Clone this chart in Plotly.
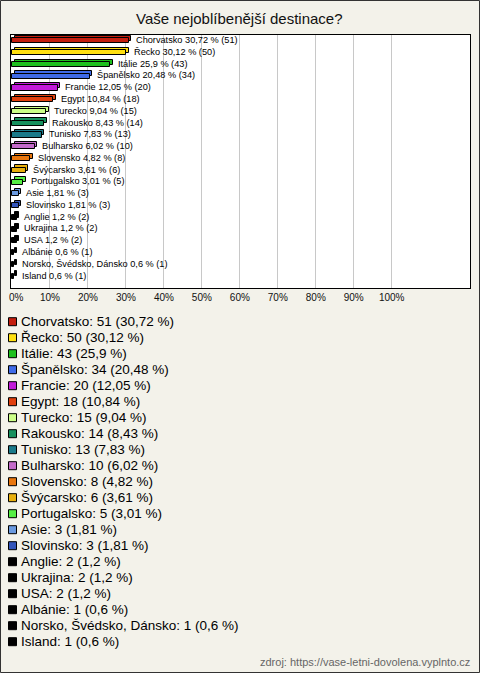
import plotly.graph_objects as go

categories = ["Chorvatsko", "Řecko", "Itálie", "Španělsko", "Francie", "Egypt", "Turecko",
              "Rakousko", "Tunisko", "Bulharsko", "Slovensko", "Švýcarsko", "Portugalsko",
              "Asie", "Slovinsko", "Anglie", "Ukrajina", "USA", "Albánie",
              "Norsko, Švédsko, Dánsko", "Island"]
counts = [51, 50, 43, 34, 20, 18, 15, 14, 13, 10, 8, 6, 5, 3, 3, 2, 2, 2, 1, 1, 1]
percents = [30.72, 30.12, 25.9, 20.48, 12.05, 10.84, 9.04, 8.43, 7.83, 6.02, 4.82, 3.61,
            3.01, 1.81, 1.81, 1.2, 1.2, 1.2, 0.6, 0.6, 0.6]
colors = ["#C41E0E", "#FFE010", "#1EC01E", "#3F6BE8", "#C21BD9", "#E0400E", "#CCFF88",
          "#17905E", "#1A7A8A", "#C36BC9", "#E8760E", "#E8B00E", "#55EE44",
          "#6A9AE0", "#3355BB", "#000000", "#000000", "#000000", "#000000", "#000000", "#000000"]
tick_values = [0, 10, 20, 30, 40, 50, 60, 70, 80, 90, 100]
tick_labels = [f"{v}%" for v in tick_values]
title = "Vaše nejoblíbenější destinace?"
source = "zdroj: https://vase-letni-dovolena.vyplnto.cz"

def cz(p):
    return str(p).replace(".", ",")

bar_labels = [f"{c} {cz(p)} % ({n})" for c, p, n in zip(categories, percents, counts)]
legend_labels = [f"{c}: {n} ({cz(p)} %)" for c, p, n in zip(categories, percents, counts)]
# first tick label sits just inside the plot edge
tick_text = ["\u00a0" * 3 + tick_labels[0]] + tick_labels[1:]

W, H = 480, 673
ml, mr, mt, mb = 11, 10, 35, 385
pw, ph = W - ml - mr, H - mt - mb
px_per_pct = 3.797
x_lo = -1.0 / px_per_pct
x_hi = x_lo + pw / px_per_pct

n = len(categories)
row_px = ph / 22.0
bw = 5.0 / row_px
dy = 2.3 / row_px
dx = 2.5 / px_per_pct
gap = 5.0 / px_per_pct

fig = go.Figure()
# back (3D depth) bars
fig.add_trace(go.Bar(
    y=categories, x=percents, base=[dx] * n, orientation="h",
    width=bw, offset=-bw / 2 - dy,
    marker=dict(color=colors, line=dict(color="#000000", width=1)),
    showlegend=False, hoverinfo="skip"))
# front bars
fig.add_trace(go.Bar(
    y=categories, x=percents, orientation="h",
    width=bw, offset=-bw / 2,
    marker=dict(color=colors, line=dict(color="#000000", width=1)),
    showlegend=False))
# transparent carrier for the value labels
fig.add_trace(go.Bar(
    y=categories, x=percents, base=[dx + gap] * n, orientation="h",
    width=bw, offset=-bw / 2 - dy / 2,
    marker=dict(color="rgba(0,0,0,0)", line=dict(width=0)),
    text=bar_labels, textposition="outside", cliponaxis=False, constraintext="none",
    textangle=0,
    textfont=dict(family="Liberation Sans, Arial", size=9.2, color="#000000"),
    showlegend=False, hoverinfo="skip"))

shapes = [dict(type="rect", xref="paper", yref="paper",
               x0=-(ml - 0.5) / pw, x1=1 + (mr - 0.5) / pw,
               y0=-(mb - 0.5) / ph, y1=1 + (mt - 0.5) / ph,
               line=dict(color="#333333", width=1), fillcolor="rgba(0,0,0,0)", layer="below")]
annotations = [dict(text=title, xref="paper", yref="paper",
                    x=(239 - ml) / pw, y=1 + (mt - 19) / ph, xanchor="center", yanchor="middle",
                    showarrow=False, font=dict(family="Liberation Sans, Arial", size=15, color="#111111")),
               dict(text=source, xref="paper", yref="paper",
                    x=(472 - ml) / pw, y=-(662 - mt - ph) / ph, xanchor="right", yanchor="middle",
                    showarrow=False, font=dict(family="Liberation Sans, Arial", size=11, color="#666666"))]

# manual legend
leg_y0, leg_dy = 321.7, 16.0
for i, (lab, col) in enumerate(zip(legend_labels, colors)):
    yc = leg_y0 + i * leg_dy
    ypaper = 1 - (yc - mt) / ph
    shapes.append(dict(type="rect", xref="paper", yref="paper",
                       x0=(8.5 - ml) / pw, x1=(16.5 - ml) / pw,
                       y0=1 - (yc + 4 - mt) / ph, y1=1 - (yc - 4 - mt) / ph,
                       fillcolor=col, line=dict(color="#000000", width=1)))
    annotations.append(dict(text=lab, xref="paper", yref="paper",
                            x=(18.5 - ml) / pw, y=ypaper, xanchor="left", yanchor="middle",
                            showarrow=False,
                            font=dict(family="Liberation Sans, Arial", size=13.5, color="#000000")))

fig.update_layout(
    width=W, height=H,
    margin=dict(l=ml, r=mr, t=mt, b=mb, pad=0, autoexpand=False),
    paper_bgcolor="#F3F2EA", plot_bgcolor="#FFFFFF",
    barmode="overlay", bargap=0,
    shapes=shapes, annotations=annotations,
    xaxis=dict(range=[x_lo, x_hi], tickvals=tick_values, ticktext=tick_text,
               showgrid=True, gridcolor="#C8C8C8", gridwidth=1, zeroline=False,
               showline=True, linecolor="#000000", linewidth=1, mirror=True,
               ticks="", ticklabeloverflow="allow", automargin=False,
               tickfont=dict(family="Liberation Sans, Arial", size=10, color="#111111"),
               fixedrange=True),
    yaxis=dict(categoryorder="array", categoryarray=categories, automargin=False,
               range=[n - 0.5 + 0.5, -0.5], showticklabels=False, showgrid=False, zeroline=False,
               showline=True, linecolor="#000000", linewidth=1, mirror=True, ticks="",
               fixedrange=True),
)

fig.write_html("out.html", config={"displayModeBar": False},
               post_script="document.body.style.margin='0';document.body.style.padding='0';document.documentElement.style.overflow='hidden';")
